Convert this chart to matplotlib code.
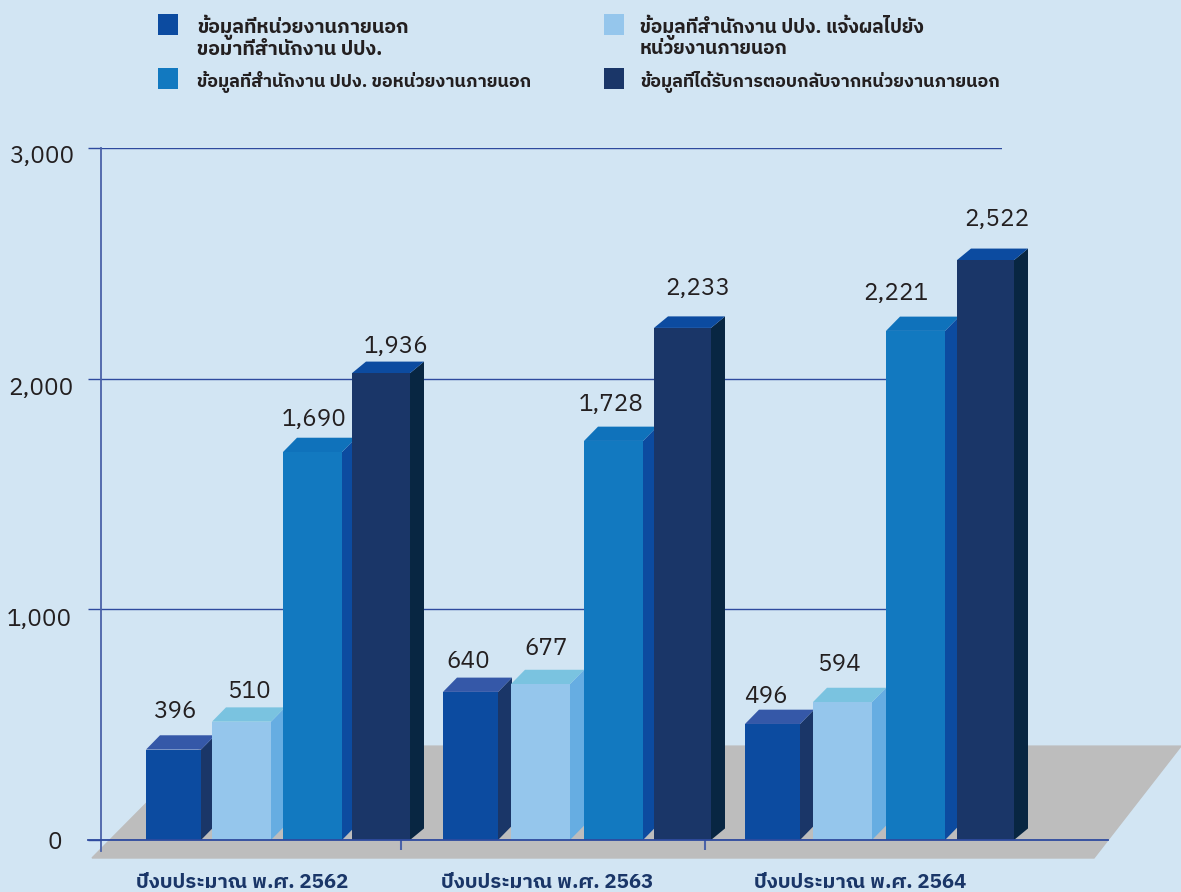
import matplotlib
matplotlib.use("Agg")
import matplotlib.pyplot as plt
from matplotlib.patches import Rectangle
from matplotlib.transforms import ScaledTranslation

# Data
groups = ["ปีงบประมาณ พ.ศ. 2562", "ปีงบประมาณ พ.ศ. 2563", "ปีงบประมาณ พ.ศ. 2564"]
legend_labels = [
    "ข้อมูลที่หน่วยงานภายนอก\nขอมาที่สำนักงาน ปปง.",
    "ข้อมูลที่สำนักงาน ปปง. แจ้งผลไปยัง\nหน่วยงานภายนอก",
    "ข้อมูลที่สำนักงาน ปปง. ขอหน่วยงานภายนอก",
    "ข้อมูลที่ได้รับการตอบกลับจากหน่วยงานภายนอก",
]
asked_by_outside = [396, 640, 496]
told_outside = [510, 677, 594]
asked_of_outside = [1690, 1728, 2221]
answered = [1936, 2233, 2522]

# the printed bars do not follow the printed numbers exactly, heights as drawn
asked_by_outside_h = [392, 642, 503]
told_outside_h = [513, 676, 598]
asked_of_outside_h = [1682, 1730, 2207]
answered_h = [2024, 2220, 2514]

y_ticks = [0, 1000, 2000, 3000]
y_tick_labels = ["0", "1,000", "2,000", "3,000"]

# Layout, x in figure pixels
bar_left = [[146, 443, 745], [212, 511, 813], [283, 584, 886], [352, 654, 957]]
bar_width = [[55, 55, 55], [59, 59, 59], [59, 59, 59], [58, 57, 57]]
label_x = [[175, 468, 766], [249, 546, 839], [314, 611, 896], [396, 698, 997]]
label_up = [[38, 30, 27], [30, 36, 38], [33, 36, 37], [27, 39, 41]]
colors = ["#0c4ba0", "#95c6ec", "#1279c0", "#1a3668"]
side_colors = ["#1a3668", "#66ade2", "#0c4ba0", "#082642"]
top_colors = ["#3558a8", "#7ac3e0", "#0f72bb", "#0c4ba0"]
depth_x = 14
depth_y = [62, 62, 62, 50]
bg = "#d2e5f3"
line_color = "#2e4a9e"
text_color = "#231f20"
plt.rcParams["font.family"] = ["IBM Plex Sans Thai", "DejaVu Sans"]

values = [asked_by_outside, told_outside, asked_of_outside, answered]
heights = [asked_by_outside_h, told_outside_h, asked_of_outside_h, answered_h]

fig = plt.figure(figsize=(11.81, 8.92), dpi=100, facecolor=bg)
ax = fig.add_axes([101 / 1181, 52 / 892, 901 / 1181, 692 / 892], facecolor="none")

# grey floor
ax.fill([92, 1094, 1181, 203], [-78, -78, 407, 407], color="#bdbdbd", zorder=0.4, clip_on=False)

# bars with a fake 3d side and top
for s in range(4):
    for g in range(3):
        x = bar_left[s][g]
        w = bar_width[s][g]
        h = heights[s][g]
        d = depth_y[s]
        z = 2 + s * 0.1
        ax.fill([x + w, x + w + depth_x, x + w + depth_x, x + w], [0, d, h + d, h],
                color=side_colors[s], lw=0, zorder=z, clip_on=False)
        ax.fill([x, x + depth_x, x + w + depth_x, x + w], [h, h + d, h + d, h],
                color=top_colors[s], lw=0, zorder=z, clip_on=False)
        ax.bar(x, h, width=w, align="edge", color=colors[s], zorder=z, clip_on=False)
        ax.annotate(f"{values[s][g]:,}", (label_x[s][g], h), xytext=(0, label_up[s][g]),
                    textcoords="offset pixels", ha="center", va="center",
                    fontsize=17.5, color=text_color, zorder=5)

# axes lines
ax.set_yticks(y_ticks, y_tick_labels, fontsize=17.5, color=text_color)
ax.tick_params(axis="y", length=9.5, width=1, color=line_color, pad=10)
nudge_x = [-12, -2, 0, 0]
nudge_y = [0, 8, 7, 6]
for lab, dx, dy in zip(ax.get_yticklabels(), nudge_x, nudge_y):
    lab.set_transform(lab.get_transform() + ScaledTranslation(dx / 100, -dy / 100, fig.dpi_scale_trans))
ax.yaxis.grid(True, color=line_color, lw=1)
ax.set_axisbelow(True)

ax.set_xticks([401, 705, 1006], [])
ax.tick_params(axis="x", which="major", length=7.5, width=1.5, color="#4a62a8")
ax.set_xticks([242, 547, 860], groups, minor=True)
ax.tick_params(axis="x", which="minor", length=0, pad=24, labelsize=14.7, labelcolor="#1a3668")
for lab in ax.get_xticklabels(minor=True):
    lab.set_fontweight("bold")

ax.set_xlim(101, 1002)
ax.set_ylim(0, 3000)

for side in ["top", "right"]:
    ax.spines[side].set_visible(False)
ax.spines["left"].set_bounds(-46, 3000)
ax.spines["left"].set_color("#4a62a8")
ax.spines["left"].set_linewidth(1.3)
ax.spines["bottom"].set_bounds(88, 1108)
ax.spines["bottom"].set_color(line_color)
ax.spines["bottom"].set_linewidth(1.3)

# legend drawn by hand, two columns, the way the original sits
leg_x = [158, 604, 158, 604]
leg_y = [14, 14, 68, 68]
leg_text_y = [15, 15, 71, 71]
leg_size = [14.2, 13.8, 12.9, 12.9]
for i, txt in enumerate(legend_labels):
    fig.add_artist(Rectangle((leg_x[i] / 1181, 1 - (leg_y[i] + 21) / 892), 20 / 1181, 21 / 892,
                             transform=fig.transFigure, color=colors[i], lw=0))
    fig.text((leg_x[i] + (39 if i % 2 == 0 else 36)) / 1181, 1 - leg_text_y[i] / 892, txt,
             fontsize=leg_size[i], fontweight="bold", color=text_color, va="top", linespacing=0.95)

fig.savefig("out.png", dpi=100, facecolor=bg)
